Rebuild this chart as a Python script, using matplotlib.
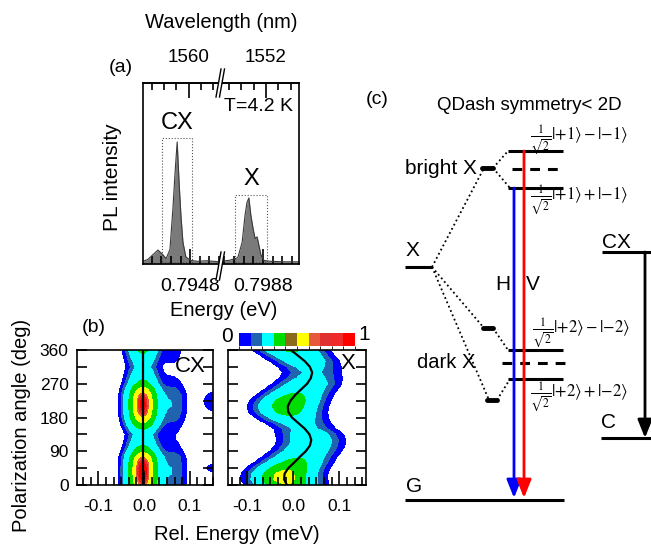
import numpy as np
import matplotlib
matplotlib.use("Agg")
import matplotlib.pyplot as plt
from matplotlib.colors import ListedColormap, BoundaryNorm
from matplotlib.colorbar import ColorbarBase
from matplotlib.patches import Rectangle, Polygon
from matplotlib.ticker import MultipleLocator, FixedLocator, FormatStrFormatter

plt.rcParams["font.family"] = ["Liberation Sans", "DejaVu Sans"]
plt.rcParams["axes.linewidth"] = 1.2

# ============================================================
# 1. Data
# ============================================================

HC_EV_NM = 1239.84

# (a) PL spectrum, left window (CX) and right window (X) of the broken axis
cx_win_energy = [0.79382, 0.79392, 0.79402, 0.79413, 0.79422, 0.79430, 0.79438,
                 0.79444, 0.79449, 0.79453, 0.79457, 0.79461, 0.79465, 0.79471,
                 0.79480, 0.79495, 0.79515, 0.79542]
cx_win_intensity = [0.015, 0.025, 0.05, 0.077, 0.055, 0.03, 0.08, 0.30, 0.52,
                    0.674, 0.45, 0.26, 0.12, 0.04, 0.02, 0.015, 0.018, 0.012]
x_win_energy = [0.79791, 0.79810, 0.79828, 0.79837, 0.79843, 0.79847, 0.79851,
                0.79855, 0.79860, 0.79864, 0.79868, 0.79872, 0.79876, 0.79882,
                0.79895, 0.79925, 0.79955]
x_win_intensity = [0.015, 0.02, 0.035, 0.12, 0.27, 0.34, 0.365, 0.27, 0.19,
                   0.14, 0.15, 0.10, 0.05, 0.02, 0.015, 0.012, 0.012]
cx_win_xlim = (0.79382, 0.79542)
x_win_xlim = (0.79791, 0.79955)
energy_ticks = [0.7948, 0.7988]
wavelength_ticks = [1560, 1552]
cx_box = (0.79422, 0.79484, 0.696)   # energy from, energy to, top
x_box = (0.79822, 0.79889, 0.381)

# (b) polarization maps: line amplitude / centre for every angle row
angles = [0, 15, 30, 45, 60, 75, 90, 105, 120, 135, 150, 165, 180,
          195, 210, 225, 240, 255, 270, 285, 300, 315, 330, 345, 360]
cx_amp = [0.86, 0.96, 1.0, 1.0, 0.95, 0.82, 0.55, 0.37, 0.28, 0.23, 0.38, 0.6,
          0.8, 0.92, 0.97, 0.96, 0.88, 0.7, 0.45, 0.33, 0.26, 0.2, 0.25, 0.33, 0.42]
cx_shoulder_amp = [0.12, 0.13, 0.14, 0.14, 0.13, 0.12, 0.08, 0.06, 0.05, 0.05,
                   0.06, 0.08, 0.11, 0.13, 0.14, 0.14, 0.13, 0.10, 0.07, 0.05,
                   0.04, 0.04, 0.05, 0.06, 0.07]
cx_edge_amp = [0, 0, 0.04, 0.075, 0.04, 0, 0, 0, 0, 0, 0, 0, 0,
               0.04, 0.085, 0.1, 0.07, 0.03, 0, 0, 0, 0, 0, 0, 0]
cx_line_energy = -0.003
cx_width = 0.022
cx_shoulder_energy, cx_shoulder_width = 0.065, 0.02
cx_edge_energy, cx_edge_width = 0.155, 0.02

x_amp = [0.6, 0.72, 0.7, 0.58, 0.45, 0.35, 0.3, 0.28, 0.27, 0.25, 0.19, 0.22,
         0.32, 0.45, 0.52, 0.5, 0.4, 0.32, 0.27, 0.2, 0.17, 0.2, 0.27, 0.33, 0.4]
x_center = [-0.014, -0.020, -0.019, -0.011, 0.002, 0.014, 0.027, 0.036, 0.039,
            0.035, 0.025, 0.011, -0.003, -0.011, -0.012, -0.006, 0.004, 0.017,
            0.030, 0.038, 0.041, 0.036, 0.025, 0.010, -0.005]
x_width = 0.041

map_levels = [0.05, 0.095, 0.152, 0.368, 0.62, 0.828, 0.885, 0.94, 1.2]
map_colors = ["#0000ff", "#2064b0", "#00ffff", "#00dd00", "#ffff00",
              "#e8583a", "#e82828", "#ff0000"]
cbar_bounds = [0, 0.095, 0.152, 0.368, 0.612, 0.626, 0.828, 0.885, 0.93, 0.965, 1.0]
cbar_colors = ["#0000ff", "#2064b0", "#00ffff", "#00dd00", "#8b6a1a", "#ffff00",
               "#e8583a", "#e03030", "#f02a2a", "#ff0000"]

# ============================================================
# 2. Figure helpers
# ============================================================

W, H = 651, 545
fig = plt.figure(figsize=(W / 100, H / 100), dpi=100)


def px_axes(left, top, right, bottom):
    return fig.add_axes([left / W, 1 - bottom / H, (right - left) / W, (bottom - top) / H])


def ev_to_nm(e):
    e = np.asarray(e, dtype=float)
    with np.errstate(divide="ignore"):
        return HC_EV_NM / e


def line_shape(energy, center, width):
    return np.exp(-(energy - center) ** 2 / (2 * width ** 2))


# ============================================================
# 3. Panel (a): PL spectrum with broken energy axis
# ============================================================

ax_a1 = px_axes(143, 83, 220, 264)
ax_a2 = px_axes(220, 83, 299, 264)

panels_a = [
    (ax_a1, cx_win_energy, cx_win_intensity, cx_win_xlim, energy_ticks[0], wavelength_ticks[0], cx_box),
    (ax_a2, x_win_energy, x_win_intensity, x_win_xlim, energy_ticks[1], wavelength_ticks[1], x_box),
]
for ax, en, inten, xlim, e_tick, nm_tick, box in panels_a:
    ax.fill_between(en, inten, 0, color="#7a7a7a", lw=0)
    ax.plot(en, inten, color="#3a3a3a", lw=0.8)
    ax.add_patch(Rectangle((box[0], 0.012), box[1] - box[0], box[2] - 0.012,
                           fill=False, ls=":", lw=0.8, ec="#555555"))
    ax.set_xlim(xlim)
    ax.set_ylim(0, 1)
    ax.set_yticks([])
    ax.xaxis.set_major_locator(FixedLocator([e_tick]))
    ax.xaxis.set_minor_locator(MultipleLocator(0.0002))
    ax.xaxis.set_major_formatter(FormatStrFormatter("%.4f"))
    ax.tick_params(axis="x", which="major", direction="in", length=11, width=1.2,
                   labelsize=14, pad=10)
    ax.tick_params(axis="x", which="minor", direction="in", length=6, width=1.2)
    sec = ax.secondary_xaxis("top", functions=(ev_to_nm, ev_to_nm))
    sec.xaxis.set_major_locator(FixedLocator([nm_tick]))
    sec.xaxis.set_minor_locator(MultipleLocator(0.5))
    sec.tick_params(which="major", direction="in", length=11, width=1.2,
                    labelsize=13.5, pad=12)
    sec.tick_params(which="minor", direction="in", length=5, width=1.2)
    sec.spines["top"].set_linewidth(1.2)

ax_a1.spines["right"].set_visible(False)
ax_a2.spines["left"].set_visible(False)

ax_a1.text((cx_box[0] + cx_box[1]) / 2, cx_box[2] + 0.02, "CX",
           ha="center", va="bottom", fontsize=17)
ax_a2.text((x_box[0] + x_box[1]) / 2, x_box[2] + 0.03, "X",
           ha="center", va="bottom", fontsize=17)
ax_a2.text(0.93, 0.87, "T=4.2 K", transform=ax_a2.transAxes,
           ha="right", va="center", fontsize=14)

# ============================================================
# 4. Panel (b): polarization-resolved maps
# ============================================================

energy_grid = np.linspace(-0.17, 0.18, 351)
cx_map = np.array([
    a * line_shape(energy_grid, cx_line_energy, cx_width)
    + s * line_shape(energy_grid, cx_shoulder_energy, cx_shoulder_width)
    + e * line_shape(energy_grid, cx_edge_energy, cx_edge_width)
    for a, s, e in zip(cx_amp, cx_shoulder_amp, cx_edge_amp)
])
x_map = np.array([
    a * line_shape(energy_grid, c, x_width) for a, c in zip(x_amp, x_center)
])

ax_b1 = px_axes(77, 350, 213, 485)
ax_b2 = px_axes(228, 350, 366, 485)

ax_b1.contourf(energy_grid, angles, cx_map, levels=map_levels, colors=map_colors)
ax_b1.axvline(cx_line_energy, color="black", lw=1.6)
ax_b2.contourf(energy_grid, angles, x_map, levels=map_levels, colors=map_colors)
ax_b2.plot(x_center, angles, color="black", lw=1.6)

ax_b1.set_xlim(-0.147, 0.151)
ax_b2.set_xlim(-0.142, 0.158)
for ax in (ax_b1, ax_b2):
    ax.set_ylim(0, 360)
    ax.xaxis.set_major_locator(MultipleLocator(0.1))
    ax.xaxis.set_minor_locator(MultipleLocator(0.1 / 6))
    ax.xaxis.set_major_formatter(FormatStrFormatter("%.1f"))
    ax.yaxis.set_major_locator(MultipleLocator(90))
    ax.yaxis.set_minor_locator(MultipleLocator(45))
    ax.tick_params(which="both", direction="in", top=False, right=True,
                   width=1.2, labelsize=12.5)
    ax.tick_params(axis="x", which="major", length=10, pad=10)
    ax.tick_params(axis="x", which="minor", length=6)
    ax.tick_params(axis="y", which="both", length=7, pad=6)
ax_b2.tick_params(labelleft=False)

ax_b1.text(0.83, 0.88, "CX", transform=ax_b1.transAxes, ha="center", va="center", fontsize=16)
ax_b2.text(0.87, 0.90, "X", transform=ax_b2.transAxes, ha="center", va="center", fontsize=16)

ax_cb = px_axes(239, 333, 355, 346)
cb = ColorbarBase(ax_cb, cmap=ListedColormap(cbar_colors),
                  norm=BoundaryNorm(cbar_bounds, len(cbar_colors)),
                  orientation="horizontal", ticks=[])
cb.outline.set_visible(False)

# ============================================================
# 5. Overlay: labels, axis breaks and the level scheme (c)
# ============================================================

ov = fig.add_axes([0, 0, 1, 1], zorder=10)
ov.set_xlim(0, W)
ov.set_ylim(H, 0)
ov.axis("off")
ov.patch.set_visible(False)

# axis break marks of panel (a)
for y_spine in (83, 266):
    x0 = 220
    ov.add_patch(Polygon([(x0 - 4, y_spine + 14), (x0 + 1, y_spine - 14),
                          (x0 + 4.5, y_spine - 14), (x0 - 0.5, y_spine + 14)],
                         closed=True, fc="white", ec="none"))
    ov.plot([x0 - 4, x0 + 1], [y_spine + 14, y_spine - 14], color="black", lw=1)
    ov.plot([x0 - 0.5, x0 + 4.5], [y_spine + 14, y_spine - 14], color="black", lw=1)

ov.text(221, 22, "Wavelength (nm)", ha="center", va="center", fontsize=14.5)
ov.text(121, 68, "(a)", ha="center", va="center", fontsize=14)
ov.text(113, 177, "PL intensity", ha="center", va="center", rotation=90, fontsize=15)
ov.text(224, 311, "Energy (eV)", ha="center", va="center", fontsize=14.5)
ov.text(94, 327, "(b)", ha="center", va="center", fontsize=14)
ov.text(22, 425, "Polarization angle (deg)", ha="center", va="center",
        rotation=90, fontsize=14.5)
ov.text(237, 535, "Rel. Energy (meV)", ha="center", va="center", fontsize=14.5)
ov.text(227, 337, "0", ha="center", va="center", fontsize=15)
ov.text(364, 335, "1", ha="center", va="center", fontsize=15)

# (c) level scheme
ov.text(377, 100, "(c)", ha="center", va="center", fontsize=14)
ov.text(529, 105, "QDash symmetry< 2D", ha="center", va="center", fontsize=13.5)

solid_levels = [((508, 563), 151), ((508, 563), 188), ((405, 432), 267),
                ((508, 563), 350), ((508, 563), 379), ((405, 564), 500),
                ((602, 651), 252), ((601, 651), 438)]
for (xa, xb), y in solid_levels:
    ov.plot([xa, xb], [y, y], color="black", lw=2.2, solid_capstyle="butt")
for (xa, xb), y in [((512, 562), 169), ((502, 568), 363)]:
    ov.plot([xa, xb], [y, y], color="black", lw=2.2, ls=(0, (3.2, 2.6)))
for (xa, xb), y in [((482, 493), 168), ((483, 493), 328), ((487, 497), 400)]:
    ov.plot([xa, xb], [y, y], color="black", lw=3.5, solid_capstyle="round")

dotted = [((432, 267), (484, 168)), ((493, 168), (508, 151)), ((493, 168), (510, 188)),
          ((432, 267), (484, 328)), ((432, 267), (489, 400)),
          ((493, 328), (508, 350)), ((497, 400), (510, 379))]
for (xa, ya), (xb, yb) in dotted:
    ov.plot([xa, xb], [ya, yb], color="black", lw=1.3, ls=(0, (1, 1.6)))

for x, y0, y1, col in [(514, 188, 498, "#0000ff"), (524, 151, 498, "#ff0000"),
                       (645, 252, 438, "black")]:
    ov.annotate("", xy=(x, y1), xytext=(x, y0),
                arrowprops=dict(arrowstyle="-|>,head_length=0.55,head_width=0.22",
                                color=col, lw=2, shrinkA=0, shrinkB=0,
                                mutation_scale=20))

ov.text(477, 168, "bright X", ha="right", va="center", fontsize=15)
ov.text(412, 250, "X", ha="center", va="center", fontsize=15)
ov.text(503, 285, "H", ha="center", va="center", fontsize=15)
ov.text(533, 285, "V", ha="center", va="center", fontsize=15)
ov.text(616, 242, "CX", ha="center", va="center", fontsize=15)
ov.text(417, 362, "dark X", ha="left", va="center", fontsize=14.5)
ov.text(609, 423, "C", ha="center", va="center", fontsize=15)
ov.text(414, 487, "G", ha="center", va="center", fontsize=15)

kets = [(530, 140, r"$\frac{1}{\sqrt{2}}|{+1}\rangle - |{-1}\rangle$"),
        (530, 200, r"$\frac{1}{\sqrt{2}}|{+1}\rangle + |{-1}\rangle$"),
        (532, 333, r"$\frac{1}{\sqrt{2}}|{+2}\rangle - |{-2}\rangle$"),
        (530, 397, r"$\frac{1}{\sqrt{2}}|{+2}\rangle + |{-2}\rangle$")]
for x, y, s in kets:
    ov.text(x, y, s, ha="left", va="center", fontsize=12, math_fontfamily="stix")

fig.savefig("out.png", dpi=100)
